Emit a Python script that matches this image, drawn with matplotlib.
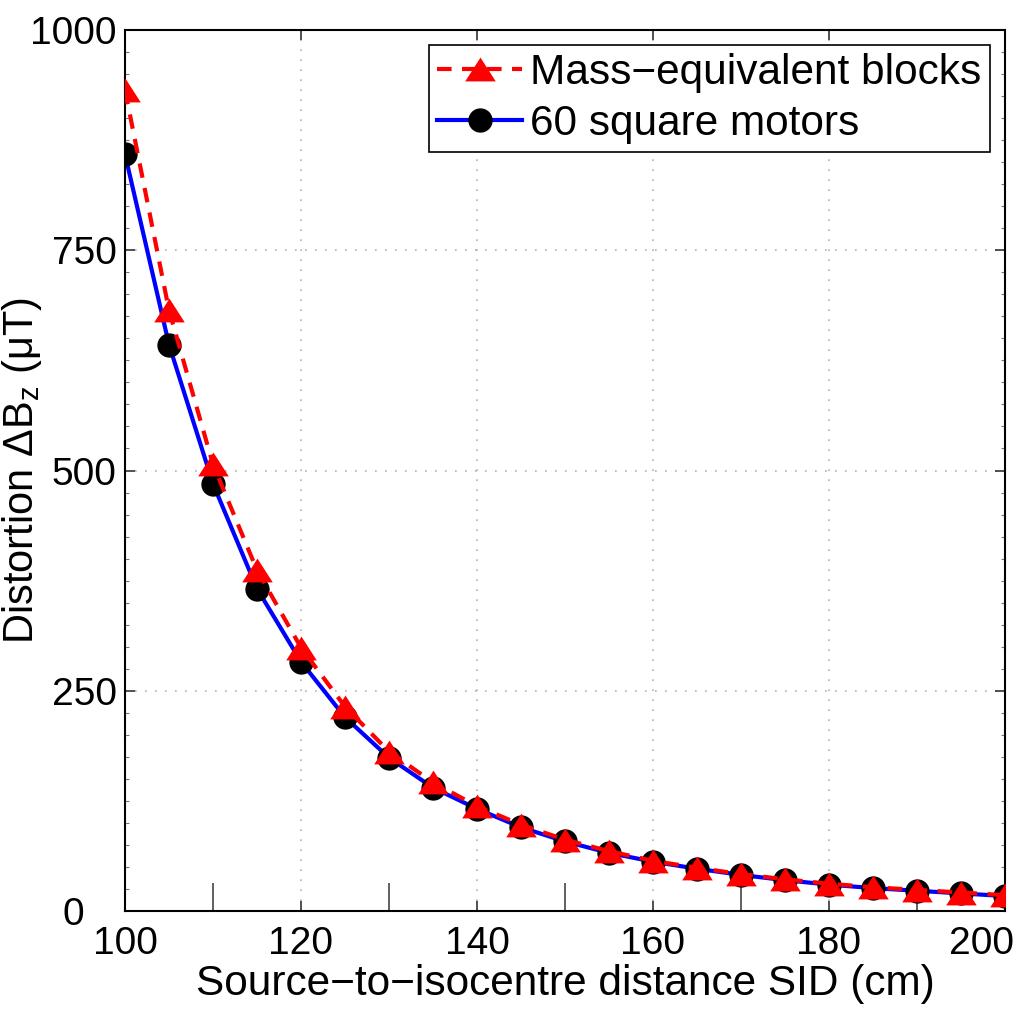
import matplotlib
matplotlib.use("Agg")
import matplotlib.pyplot as plt
from matplotlib.ticker import MultipleLocator, FixedLocator
from matplotlib.transforms import ScaledTranslation

plt.rcParams['font.family'] = ['Liberation Sans', 'DejaVu Sans']
plt.rcParams['mathtext.fontset'] = 'custom'
plt.rcParams['mathtext.rm'] = 'Liberation Sans'
plt.rcParams['mathtext.it'] = 'Liberation Sans:italic'

sid = [100, 105, 110, 115, 120, 125, 130, 135, 140, 145, 150,
       155, 160, 165, 170, 175, 180, 185, 190, 195, 200]
blocks = [932, 682, 507, 387, 299, 232, 181, 146, 119, 98, 81,
          68, 57, 49, 42, 36, 31, 27, 24, 21, 18]
motors = [859, 643, 485, 366, 283, 220, 174, 140, 116, 95, 79,
          66, 56, 48, 41, 35, 30, 26, 23, 20, 17]

x_major = [100, 120, 140, 160, 180, 200]
x_minor = [110, 130, 150, 170, 190]
y_major = [0, 250, 500, 750, 1000]

tri = [(0, 0.78), (-1, -0.78), (1, -0.78), (0, 0.78)]

fig = plt.figure(figsize=(10.21, 10.17), dpi=100)
ax = fig.add_axes([0.1224, 0.1042, 0.8619, 0.8663])

ax.plot(sid, motors, color='#0000ff', lw=3.0, marker='o', ms=16.5,
        mfc='black', mec='black', label='60 square motors', zorder=3)
ax.plot(sid, blocks, color='#ff0000', lw=3.0, ls=(0, (3.5, 2.5)), marker=tri, ms=22,
        mfc='#ff0000', mec='#ff0000', mew=0, label='Mass\u2212equivalent blocks', zorder=4)

ax.set_xlim(100, 200)
ax.set_ylim(0, 1000)
ax.xaxis.set_major_locator(FixedLocator(x_major))
ax.xaxis.set_minor_locator(FixedLocator(x_minor))
ax.yaxis.set_major_locator(FixedLocator(y_major))
ax.yaxis.set_minor_locator(MultipleLocator(25))

ax.grid(True, which='major', ls=(0, (1, 5)), color='#b0b0b0', lw=1.2)

ax.tick_params(axis='both', which='major', direction='in', labelsize=28,
               length=7, width=1.2, color='#333333')
ax.tick_params(axis='x', which='major', top=True, bottom=True, pad=11)
ax.tick_params(axis='y', which='major', left=True, right=True, pad=6)
ax.tick_params(axis='x', which='minor', direction='in', bottom=True, top=False,
               length=20, width=1.2, color='#444444')
ax.tick_params(axis='y', which='minor', direction='in', left=True, right=True,
               length=3, width=0.8, color='#777777')

for s in ax.spines.values():
    s.set_linewidth(1.5)
    s.set_color('black')

ax.set_xlabel('Source\u2212to\u2212isocentre distance SID (cm)', fontsize=30.5)
ax.set_ylabel(r'Distortion $\mathrm{\Delta B_z}$ ($\mathrm{\mu}$T)', fontsize=30)
ax.xaxis.set_label_coords(0.5, -0.06)
ax.yaxis.set_label_coords(-0.092, 0.5)

fig.canvas.draw()
xl = ax.get_xticklabels()
xl[-1].set_transform(xl[-1].get_transform() +
                     ScaledTranslation(-23 / 100, 0, fig.dpi_scale_trans))
yl = ax.get_yticklabels()
yl[0].set_transform(yl[0].get_transform() +
                    ScaledTranslation(-33 / 100, 0, fig.dpi_scale_trans))

handles, labels = ax.get_legend_handles_labels()
leg = ax.legend(handles[::-1], labels[::-1], loc='upper right', fontsize=30.5,
                frameon=True, fancybox=False, framealpha=1, edgecolor='black',
                borderpad=0.2, handlelength=2.0, handletextpad=0.2,
                labelspacing=0.25, borderaxespad=0.35)
leg.get_frame().set_linewidth(1.2)

fig.savefig('out.png', dpi=100)
